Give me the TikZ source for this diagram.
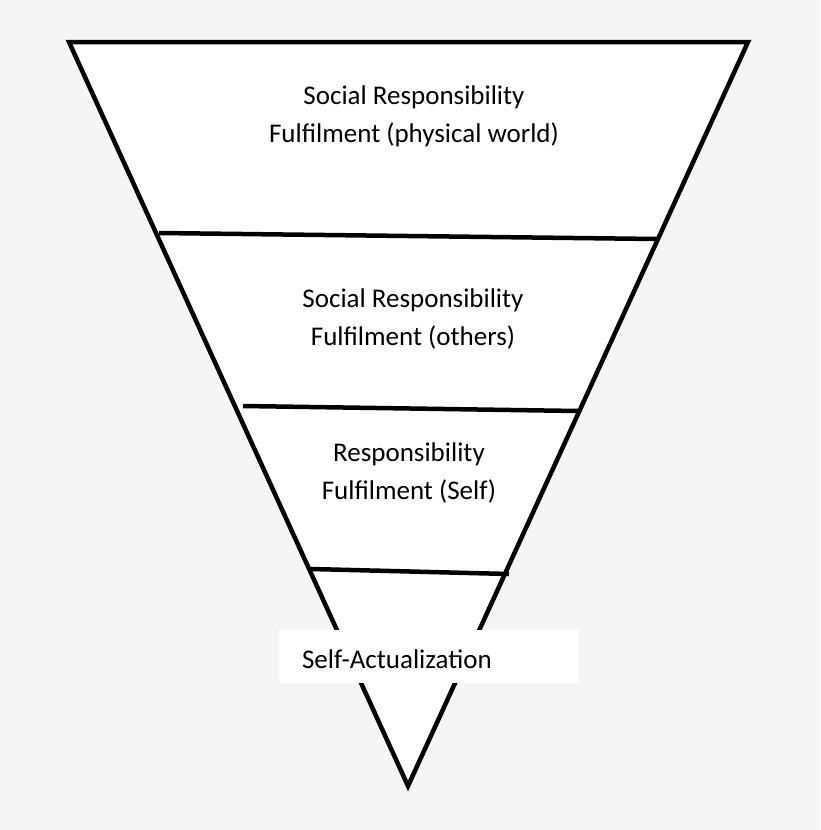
\documentclass[tikz,border=0pt]{standalone}
\usepackage{fontspec}
\setmainfont{Carlito}
\definecolor{bggray}{HTML}{F5F5F5}

\begin{document}
\begin{tikzpicture}[x=1pt,y=-1pt,
    level/.style={align=center,font=\fontsize{27}{38}\selectfont},
    rule/.style={draw=black,line width=4.5pt}]
	    \fill[bggray] (0,0) rectangle (820,830);

	    \coordinate (TL) at (69,42);
	    \coordinate (TR) at (748,42);
	    \coordinate (B) at (408,786);
	    \draw[rule,fill=white] (TL) -- (TR) -- (B) -- cycle;

	    \coordinate (A1) at (159,233);
	    \coordinate (A2) at (657,239);
	    \coordinate (B1) at (243,406);
	    \coordinate (B2) at (578,411);
	    \coordinate (C1) at (311,569);
	    \coordinate (C2) at (509,574);

	    \path [rule] (A1) edge (A2);
	    \path [rule] (B1) edge (B2);
	    \path [rule] (C1) edge (C2);

	    \node[level] (W) at (414,116) {Social Responsibility\\Fulfilment (physical world)};
	    \node[level] (O) at (413,319) {Social Responsibility\\Fulfilment (others)};
	    \node[level] (S) at (409,473) {Responsibility\\Fulfilment (Self)};
	    \node[fill=white,minimum width=300pt,minimum height=53pt,inner sep=0pt] (SA) at (429,656.5) {};
	    \node[anchor=base west,inner sep=0pt,font=\fontsize{27}{30}\selectfont] at ([xshift=23pt,yshift=-11.5pt]SA.west) {Self-Actualization};
	\end{tikzpicture}
\end{document}
